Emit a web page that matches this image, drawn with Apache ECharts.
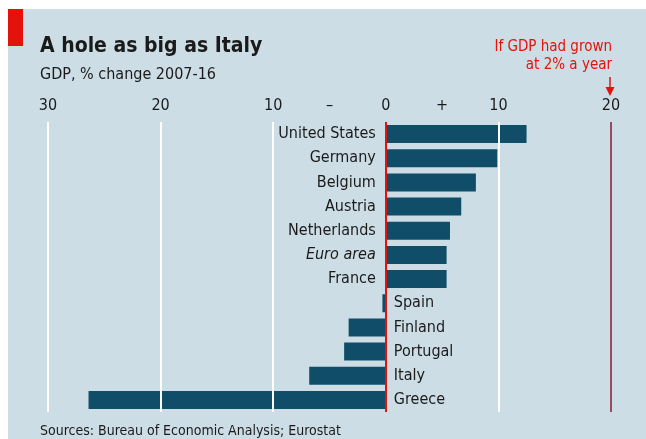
<!DOCTYPE html>
<html>
<head>
<meta charset="utf-8">
<script src="https://cdn.jsdelivr.net/npm/echarts@6/dist/echarts.min.js"></script>
<style>
    html, body {
        margin: 0;
        padding: 0;
        background: #ffffff;
    }
    .wrap {
        position: relative;
        width: 646px;
        height: 439px;
        background: #ffffff;
    }
    .panel {
        position: absolute;
        left: 8px;
        top: 9px;
        right: 0;
        bottom: 0;
        background: #cddde6;
    }
    #chart {
        position: absolute;
        left: 0;
        top: 0;
        width: 646px;
        height: 439px;
    }
</style>
</head>
<body>
<div class="wrap">
    <div class="panel"></div>
    <div id="chart"></div>
</div>
<script>
const countries = ['United States', 'Germany', 'Belgium', 'Austria', 'Netherlands', 'Euro area',
    'France', 'Spain', 'Finland', 'Portugal', 'Italy', 'Greece']
const gdpChange = [12.5, 9.9, 8.0, 6.7, 5.7, 5.4, 5.4, -0.3, -3.3, -3.7, -6.8, -26.4]
const gridValues = [-30, -20, -10, 10]
const trendValue = 20

const font = '"DejaVu Sans Condensed", "Liberation Sans Narrow", "Roboto", sans-serif'
const ink = '#1a1a1a'
const red = '#e3120b'

const chart = echarts.init(document.getElementById('chart'))

const barData = gdpChange.map((v, i) => ({
    value: v,
    label: {
        position: v >= 0 ? 'left' : 'right',
        distance: v >= 0 ? 10 : 8,
        fontStyle: countries[i] === 'Euro area' ? 'italic' : 'normal'
    }
}))

const option = {
    animation: false,
    textStyle: { fontFamily: font },
    title: [
        {
            text: 'A hole as big as Italy',
            left: 35,
            top: 31,
            textStyle: { fontFamily: font, fontSize: 21, fontWeight: 'bold', color: ink }
        },
        {
            text: 'GDP, % change 2007-16',
            left: 35,
            top: 62,
            textStyle: { fontFamily: font, fontSize: 16, fontWeight: 'normal', color: ink }
        },
        {
            text: 'Sources: Bureau of Economic Analysis; Eurostat',
            left: 35,
            top: 419,
            textStyle: { fontFamily: font, fontSize: 14, fontWeight: 'normal', color: ink }
        }
    ],
    graphic: [
        { type: 'rect', shape: { x: 8, y: 9, width: 15, height: 37 }, style: { fill: red } },
        {
            type: 'text',
            x: 612,
            y: 38,
            style: {
                text: 'If GDP had grown\nat 2% a year',
                fill: red,
                font: '15px ' + font,
                align: 'right',
                lineHeight: 18
            }
        },
        { type: 'line', shape: { x1: 610, y1: 77, x2: 610, y2: 88 }, style: { stroke: red, lineWidth: 1.5 } },
        { type: 'polygon', shape: { points: [[605.5, 87], [614.5, 87], [610, 96]] }, style: { fill: red } }
    ],
    grid: {
        left: 48,
        right: 35,
        top: 122,
        bottom: 27
    },
    xAxis: {
        type: 'value',
        position: 'top',
        min: -30,
        max: 20,
        interval: 5,
        axisLine: { show: false },
        axisTick: { show: false },
        splitLine: { show: false },
        axisLabel: {
            margin: 8,
            fontSize: 16,
            color: ink,
            formatter: v => {
                if (v === -5) return '–'
                if (v === 5) return '+'
                return v % 10 === 0 ? String(Math.abs(v)) : ''
            }
        }
    },
    yAxis: {
        type: 'category',
        inverse: true,
        data: countries,
        axisLine: { show: false },
        axisTick: { show: false },
        axisLabel: { show: false }
    },
    series: [
        {
            type: 'line',
            data: [],
            z: 1,
            silent: true,
            markLine: {
                silent: true,
                symbol: 'none',
                label: { show: false },
                lineStyle: { color: '#ffffff', width: 2, type: 'solid' },
                data: gridValues.map(v => ({ xAxis: v })).concat([
                    { xAxis: trendValue, lineStyle: { color: '#9a4a5e', width: 2 } }
                ])
            }
        },
        {
            type: 'bar',
            data: barData,
            barWidth: 18,
            z: 2,
            itemStyle: { color: '#0f4d68' },
            label: {
                show: true,
                formatter: p => countries[p.dataIndex],
                fontSize: 16,
                color: ink
            },
            markLine: {
                silent: true,
                symbol: 'none',
                label: { show: false },
                lineStyle: { color: red, width: 2, type: 'solid' },
                data: [{ xAxis: 0 }]
            }
        }
    ]
}

chart.setOption(option)
</script>
</body>
</html>
